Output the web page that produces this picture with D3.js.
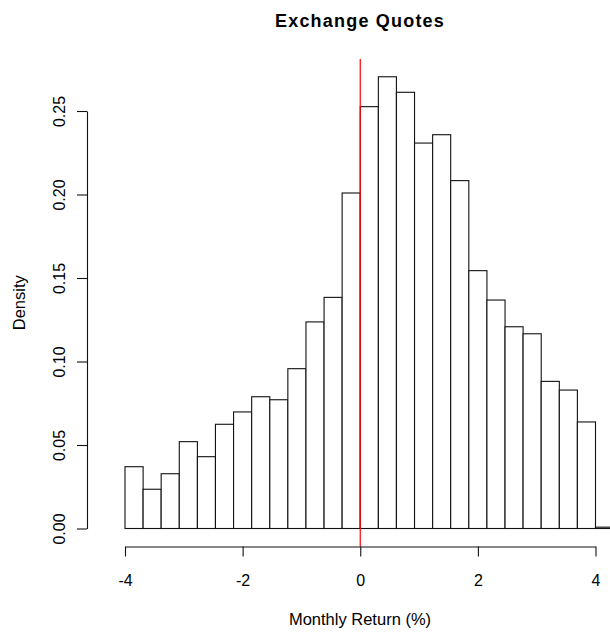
<!DOCTYPE html>
<html>
<head>
<meta charset="utf-8">
<script src="https://cdn.jsdelivr.net/npm/d3@7"></script>
<style>
  html, body { margin: 0; padding: 0; background: #fff; overflow: hidden; }
  svg { display: block; }
  text { font-family: "Liberation Sans", Arial, Helvetica, sans-serif; fill: #000; }
</style>
</head>
<body>
<svg id="chart" width="610" height="633"></svg>
<script>
// ---- data ----
const title = "Exchange Quotes";
const xLabel = "Monthly Return (%)";
const yLabel = "Density";
const breaks = [-4.308, -4.000, -3.692, -3.385, -3.077, -2.769, -2.462, -2.154, -1.846, -1.538,
                -1.231, -0.923, -0.615, -0.308, 0.000, 0.308, 0.615, 0.923, 1.231, 1.538,
                1.846, 2.154, 2.462, 2.769, 3.077, 3.385, 3.692, 4.000, 4.308];
const densities = [0.0000, 0.0370, 0.0235, 0.0328, 0.0520, 0.0430, 0.0624, 0.0698, 0.0789, 0.0771,
                   0.0957, 0.1237, 0.1384, 0.2009, 0.2526, 0.2705, 0.2612, 0.2308, 0.2358, 0.2083,
                   0.1544, 0.1368, 0.1208, 0.1166, 0.0881, 0.0829, 0.0638, 0.0008];
const xTicks = [-4, -2, 0, 2, 4];
const yTicks = [0.00, 0.05, 0.10, 0.15, 0.20, 0.25];
const refLine = 0;

// ---- layout ----
const svg = d3.select("#chart");
const x = d3.scaleLinear().domain([-4, 4]).range([125, 595.5]);
const y = d3.scaleLinear().domain([0, 0.25]).range([528.5, 111]);
const plotTop = 59, plotBottom = 546.5, yAxisX = 87, xAxisY = 546.5;

const bins = densities.map((d, i) => ({ x0: breaks[i], x1: breaks[i + 1], d }));

// bars
svg.append("g").selectAll("rect").data(bins).join("rect")
  .attr("x", b => x(b.x0))
  .attr("y", b => y(b.d))
  .attr("width", b => x(b.x1) - x(b.x0))
  .attr("height", b => y(0) - y(b.d))
  .attr("fill", "#fff")
  .attr("stroke", "#111")
  .attr("stroke-width", 1.1);

// reference line at 0
svg.append("line")
  .attr("x1", x(refLine)).attr("x2", x(refLine))
  .attr("y1", plotTop).attr("y2", plotBottom)
  .attr("stroke", "#ff0000").attr("stroke-width", 1.2);

// x axis
const gx = svg.append("g").attr("transform", `translate(0,${xAxisY})`)
  .call(d3.axisBottom(x).tickValues(xTicks).tickSize(10).tickSizeOuter(0).tickFormat(d => String(d)));
gx.select(".domain").attr("stroke", "#111").attr("stroke-width", 1.1);
gx.selectAll(".tick line").attr("stroke", "#111").attr("stroke-width", 1.1);
gx.selectAll(".tick text")
  .attr("y", 39.5).attr("dy", 0)
  .style("font-size", "16px")
  .style("font-family", "'Liberation Sans', Arial, sans-serif")
  .attr("fill", "#000");

// y axis
const gy = svg.append("g").attr("transform", `translate(${yAxisX},0)`)
  .call(d3.axisLeft(y).tickValues(yTicks).tickSize(10).tickSizeOuter(0).tickFormat(d3.format(".2f")));
gy.select(".domain").attr("stroke", "#111").attr("stroke-width", 1.1);
gy.selectAll(".tick line").attr("stroke", "#111").attr("stroke-width", 1.1);
gy.selectAll(".tick text")
  .attr("x", 0).attr("y", -22).attr("dy", 0)
  .attr("transform", "rotate(-90)")
  .attr("text-anchor", "middle")
  .style("font-size", "16px")
  .style("font-family", "'Liberation Sans', Arial, sans-serif")
  .attr("fill", "#000");

// titles
svg.append("text")
  .attr("x", 360).attr("y", 27)
  .attr("text-anchor", "middle")
  .style("font-size", "18px").style("font-weight", "bold").style("letter-spacing", "1.2px")
  .text(title);

svg.append("text")
  .attr("x", 360).attr("y", 625)
  .attr("text-anchor", "middle")
  .style("font-size", "16.5px")
  .text(xLabel);

svg.append("text")
  .attr("transform", `translate(25,${(plotTop + plotBottom) / 2}) rotate(-90)`)
  .attr("text-anchor", "middle")
  .style("font-size", "16.5px")
  .text(yLabel);
</script>
</body>
</html>
